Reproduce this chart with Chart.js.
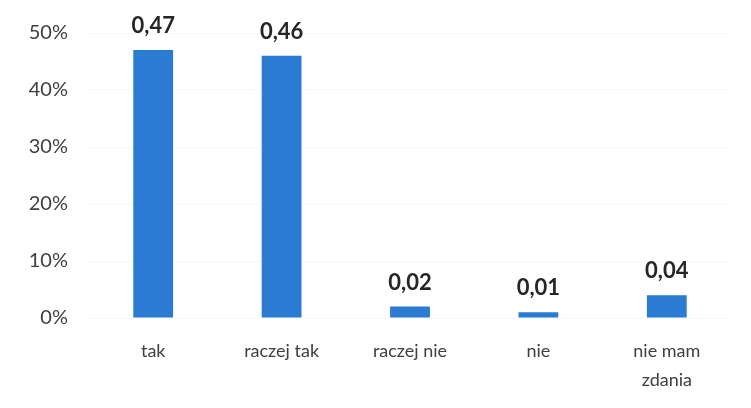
<!DOCTYPE html>
<html>
<head>
<meta charset="utf-8">
<script src="https://cdn.jsdelivr.net/npm/chart.js@4.4.0/dist/chart.umd.min.js"></script>
<style>
  html, body { margin: 0; padding: 0; background: #fff; }
  #wrap { width: 751px; height: 408px; position: relative; }
</style>
</head>
<body>
<div id="wrap"><canvas id="chart"></canvas></div>
<script>
const categories = ['tak', 'raczej tak', 'raczej nie', 'nie', ['nie mam', 'zdania']];
const shares = [0.47, 0.46, 0.02, 0.01, 0.04];
const yTicks = [0, 0.1, 0.2, 0.3, 0.4, 0.5];

const FONT = 'Lato';

// value labels above bars, Polish decimal comma
const valueLabels = {
  id: 'valueLabels',
  afterDatasetsDraw(chart) {
    const ctx = chart.ctx;
    const meta = chart.getDatasetMeta(0);
    ctx.save();
    ctx.font = 'bold 22px ' + FONT;
    ctx.fillStyle = '#262626';
    ctx.textAlign = 'center';
    ctx.textBaseline = 'middle';
    meta.data.forEach((bar, i) => {
      const txt = shares[i].toFixed(2).replace('.', ',');
      ctx.fillText(txt, bar.x, bar.y - 24);
    });
    ctx.restore();
  }
};

new Chart(document.getElementById('chart').getContext('2d'), {
  type: 'bar',
  data: {
    labels: categories,
    datasets: [{
      data: shares,
      backgroundColor: '#2A7BD1',
      borderWidth: 0,
      barPercentage: 0.62,
      categoryPercentage: 0.5
    }]
  },
  options: {
    responsive: true,
    maintainAspectRatio: false,
    animation: false,
    layout: { padding: { top: 33, right: 20, left: 0, bottom: 0 } },
    plugins: { legend: { display: false }, tooltip: { enabled: false } },
    scales: {
      x: {
        grid: { display: false },
        border: { display: false },
        ticks: { color: '#404040', font: { family: FONT, size: 18, lineHeight: 1.6 }, padding: 11, maxRotation: 0 },
        afterFit(scale) { scale.height = 90; }
      },
      y: {
        min: 0,
        max: 0.5,
        afterBuildTicks(scale) { scale.ticks = yTicks.map(v => ({ value: v })); },
        grid: { color: 'rgba(0,0,0,0.03)', drawTicks: false },
        border: { display: false },
        ticks: {
          color: '#404040',
          font: { family: FONT, size: 20 },
          padding: 21,
          callback: v => Math.round(v * 100) + '%'
        },
        afterFit(scale) { scale.width = 89; }
      }
    }
  },
  plugins: [valueLabels]
});
</script>
</body>
</html>
